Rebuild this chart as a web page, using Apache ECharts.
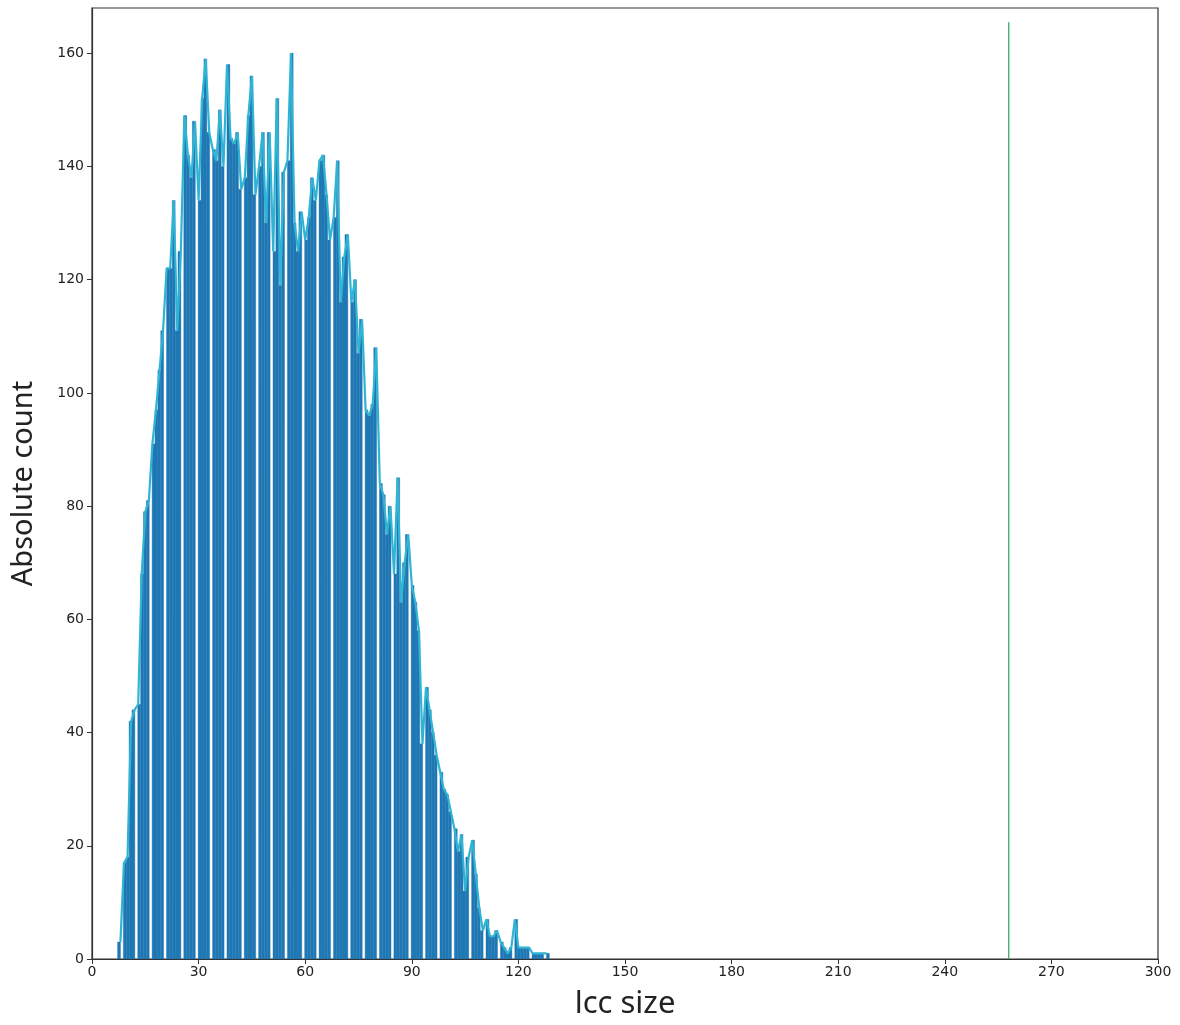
<!DOCTYPE html>
<html>
<head>
<meta charset="utf-8">
<script src="https://cdn.jsdelivr.net/npm/echarts@6/dist/echarts.min.js"></script>
<style>
html,body{margin:0;padding:0;background:#fff;}
#chart{width:1180px;height:1025px;}
</style>
</head>
<body>
<div id="chart"></div>
<script>
// ---- data ----
const lccSize = [
  8,9,10,11,12,13,14,15,16,17,
  18,19,20,21,22,23,24,25,26,27,
  28,29,30,31,32,33,34,35,36,37,
  38,39,40,41,42,43,44,45,46,47,
  48,49,50,51,52,53,54,55,56,57,
  58,59,60,61,62,63,64,65,66,67,
  68,69,70,71,72,73,74,75,76,77,
  78,79,80,81,82,83,84,85,86,87,
  88,89,90,91,92,93,94,95,96,97,
  98,99,100,101,102,103,104,105,106,107,
  108,109,110,111,112,113,114,115,116,117,
  118,119,120,121,122,123,124,125,126,127,128
];
const counts = [
  3,17,18,42,44,45,68,79,81,91,
  97,104,111,122,122,134,111,125,149,142,
  138,148,134,152,159,146,143,141,150,140,
  158,145,144,146,136,138,149,156,135,140,
  146,130,146,125,152,119,139,141,160,130,
  125,132,127,131,138,134,141,142,135,127,
  131,141,116,124,128,116,120,107,113,97,
  96,98,108,84,82,75,80,68,85,63,
  70,75,66,63,58,38,48,44,40,36,
  33,30,29,26,23,19,22,12,18,21,
  15,9,5,7,4,4,5,3,2,1,
  2,7,2,2,2,2,1,1,1,1,1
];
const thresholdX = [258, 258];
const thresholdY = [0, 165.5];
const xTicks = [0,30,60,90,120,150,180,210,240,270,300];
const yTicks = [0,20,40,60,80,100,120,140,160];

// histogram binning (integer values fall into narrower bins, leaving some bins empty)
const binStart = 7.2, binWidth = 0.81;
const histRows = lccSize.map((v, i) => {
  const k = Math.floor((v - binStart) / binWidth);
  const left = binStart + k * binWidth;
  return [left, left + binWidth, counts[i]];
});
const lineData = lccSize.map((v, i) => [v, counts[i]]);
const threshData = thresholdX.map((x, i) => [x, thresholdY[i]]);

const chart = echarts.init(document.getElementById('chart'), null, {renderer: 'canvas'});
const tickFont = {fontFamily: 'DejaVu Sans', fontSize: 14, color: '#222'};
chart.setOption({
  animation: false,
  backgroundColor: '#fff',
  grid: {left: 92, right: 22, top: 8, bottom: 65, show: true, borderColor: '#333', borderWidth: 1.2, backgroundColor: 'transparent'},
  xAxis: {
    type: 'value', min: 0, max: 300, interval: 30,
    name: 'lcc size', nameLocation: 'middle', nameGap: 30,
    nameTextStyle: {fontFamily: 'Noto Sans', fontSize: 31, color: '#222'},
    axisLine: {show: true, lineStyle: {color: '#333', width: 1.2}},
    axisTick: {show: true, inside: false, length: 5, lineStyle: {color: '#333'}, customValues: xTicks},
    axisLabel: Object.assign({margin: 6, customValues: xTicks}, tickFont),
    splitLine: {show: false}
  },
  yAxis: {
    type: 'value', min: 0, max: 168, interval: 20,
    name: 'Absolute count', nameLocation: 'middle', nameGap: 54, nameRotate: 90,
    nameTextStyle: {fontFamily: 'Noto Sans', fontSize: 29, color: '#222'},
    axisLine: {show: true, lineStyle: {color: '#333', width: 1.2}},
    axisTick: {show: true, inside: false, length: 5, lineStyle: {color: '#333'}, customValues: yTicks},
    axisLabel: Object.assign({margin: 8, customValues: yTicks}, tickFont),
    splitLine: {show: false}
  },
  series: [
    {
      type: 'custom',
      data: histRows,
      encode: {x: [0, 1], y: 2},
      clip: true,
      z: 2,
      renderItem: function (params, api) {
        const p0 = api.coord([api.value(0), api.value(2)]);
        const p1 = api.coord([api.value(1), 0]);
        return {
          type: 'rect',
          shape: {x: p0[0], y: p0[1], width: p1[0] - p0[0], height: p1[1] - p0[1]},
          style: {fill: '#1f77b4', stroke: '#1f77b4', lineWidth: 0.4}
        };
      }
    },
    {
      type: 'line',
      data: lineData,
      showSymbol: false,
      symbol: 'none',
      z: 3,
      lineStyle: {color: '#2fb4d4', width: 2.2},
      itemStyle: {color: '#2fb4d4'}
    },
    {
      type: 'line',
      data: threshData,
      showSymbol: false,
      symbol: 'none',
      z: 4,
      lineStyle: {color: '#3aa86a', width: 1.3},
      itemStyle: {color: '#3aa86a'}
    }
  ]
});
</script>
</body>
</html>
